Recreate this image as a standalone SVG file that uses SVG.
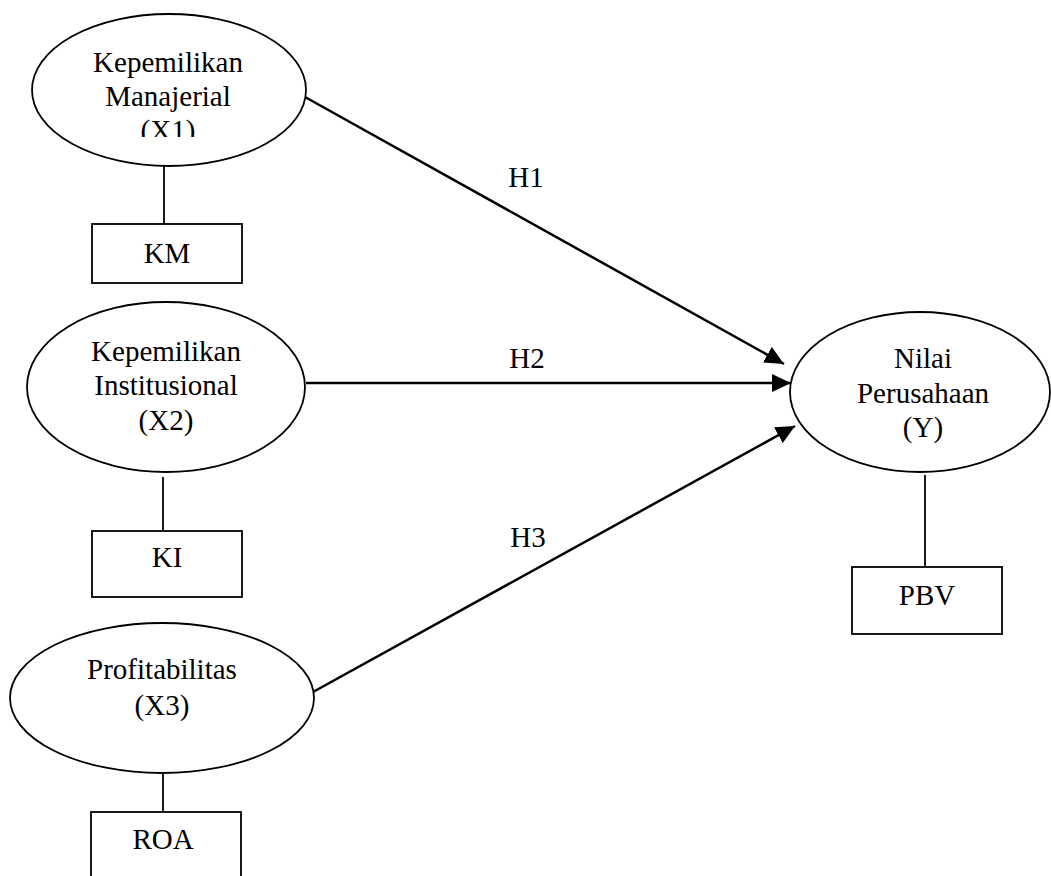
<svg xmlns="http://www.w3.org/2000/svg" width="1051" height="876" viewBox="0 0 1051 876">
<style>
.el{fill:#fff;stroke:#000;stroke-width:1.8}
.bx{fill:#fff;stroke:#000;stroke-width:1.8}
.ln{stroke:#000;stroke-width:1.8;fill:none}
.ar{stroke:#000;stroke-width:2.5;fill:none}
text{font-family:"Liberation Serif","Times New Roman",serif;font-size:29px;fill:#000;text-anchor:middle}
</style>
<defs>
<marker id="ah" markerUnits="userSpaceOnUse" markerWidth="22" markerHeight="18" refX="19" refY="9" orient="auto">
<path d="M0,0 L19,9 L0,18 Z" fill="#000"/>
</marker>
<clipPath id="c1"><rect x="0" y="0" width="400" height="137"/></clipPath>
</defs>
<rect width="1051" height="876" fill="#fff"/>
<g id="connectors">
<line class="ln" x1="164" y1="166" x2="164" y2="224"/>
<line class="ln" x1="163" y1="477" x2="163" y2="531"/>
<line class="ln" x1="163" y1="772" x2="163" y2="812"/>
<line class="ln" x1="925" y1="475" x2="925" y2="567"/>
<line class="ar" x1="305" y1="97" x2="784" y2="364" marker-end="url(#ah)"/>
<line class="ar" x1="306" y1="383" x2="791" y2="383" marker-end="url(#ah)"/>
<line class="ar" x1="313" y1="692" x2="795" y2="426" marker-end="url(#ah)"/>
<text x="526" y="187">H1</text>
<text x="527" y="368">H2</text>
<text x="528" y="547">H3</text>
</g>
<g id="x1">
<ellipse class="el" cx="169" cy="90" rx="137" ry="76"/>
<text x="168" y="72">Kepemilikan</text>
<text x="168" y="106">Manajerial</text>
<text x="168" y="140" clip-path="url(#c1)">(X1)</text>
</g>
<g id="km">
<rect class="bx" x="92" y="224" width="150" height="59"/>
<text x="167" y="263">KM</text>
</g>
<g id="x2">
<ellipse class="el" cx="166" cy="387" rx="139" ry="85"/>
<text x="166" y="361">Kepemilikan</text>
<text x="166" y="395">Institusional</text>
<text x="166" y="430">(X2)</text>
</g>
<g id="ki">
<rect class="bx" x="92" y="531" width="150" height="66"/>
<text x="167" y="567">KI</text>
</g>
<g id="x3">
<ellipse class="el" cx="162" cy="698" rx="152" ry="75"/>
<text x="162" y="679">Profitabilitas</text>
<text x="162" y="715">(X3)</text>
</g>
<g id="roa">
<rect class="bx" x="91" y="812" width="150" height="80"/>
<text x="163" y="849">ROA</text>
</g>
<g id="y">
<ellipse class="el" cx="920" cy="392" rx="130" ry="80"/>
<text x="923" y="368">Nilai</text>
<text x="923" y="403">Perusahaan</text>
<text x="923" y="437">(Y)</text>
</g>
<g id="pbv">
<rect class="bx" x="852" y="567" width="150" height="67"/>
<text x="927" y="605">PBV</text>
</g>
</svg>
